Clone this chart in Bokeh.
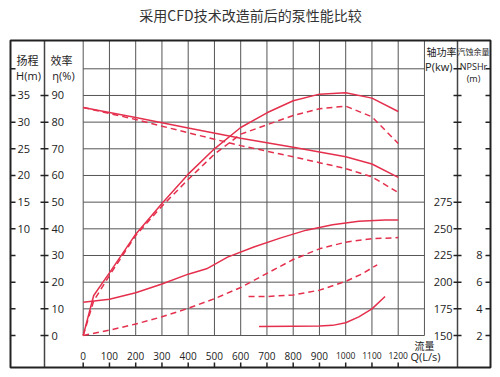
from bokeh.plotting import figure
from bokeh.models import Range1d
from bokeh.core.properties import value
from bokeh.embed import file_html
from bokeh.resources import INLINE

# ---------------- data ----------------
TITLE = "采用CFD技术改造前后的泵性能比较"

Q_TICKS = list(range(0, 1201, 100))          # flow, L/s
Q_GRID = list(range(0, 1301, 100))
ETA_GRID = list(range(0, 101, 10))
ETA_LABELS = list(range(0, 91, 10))          # efficiency, %
H_TICKS = list(range(-10, 41, 5))
H_LABELS = [10, 15, 20, 25, 30, 35]          # head, m
P_TICKS = list(range(150, 401, 25))
P_LABELS = [150, 175, 200, 225, 250, 275]    # shaft power, kW
N_TICKS = list(range(2, 23, 2))
N_LABELS = [2, 4, 6, 8]                      # NPSHr, m

# head H (m)
q_head = [0, 200, 400, 600, 800, 900, 1000, 1100, 1200]
head_after = [32.75, 30.85, 28.9, 27.0, 25.3, 24.4, 23.5, 22.15, 19.65]
head_before = [32.75, 30.5, 28.0, 25.6, 23.5, 22.4, 21.3, 19.75, 16.8]

# efficiency (%)
q_eff = [0, 40, 100, 200, 300, 400, 500, 600, 700, 800, 900, 1000, 1100, 1200]
eff_after = [0, 15, 23.5, 38, 49.5, 60.5, 70, 78, 83.5, 88, 90.5, 91, 89, 84]
eff_before = [0, 13, 22.5, 37.5, 48.5, 58.5, 68, 75.5, 79, 82.5, 85, 86, 82, 72]

# shaft power P (kW)
q_pow_after = [0, 100, 200, 300, 400, 470, 550, 650, 750, 850, 950, 1050, 1150, 1200]
pow_after = [181.25, 184, 190, 198.25, 207.5, 212.5, 223.5, 233, 241.25, 248.75,
             253.75, 257, 258.25, 258.25]
q_pow_before = [0, 100, 200, 300, 400, 500, 600, 700, 800, 900, 1000, 1100, 1200]
pow_before = [150, 155, 160.75, 167.5, 175.5, 184.5, 195, 208.25, 221.25, 231.25,
              237.5, 240.75, 241.75]

# NPSHr (m)
q_npsh_after = [670, 800, 900, 950, 1000, 1050, 1100, 1150]
npsh_after = [2.68, 2.7, 2.72, 2.76, 2.96, 3.4, 4.0, 4.92]
q_npsh_before = [630, 700, 800, 900, 1000, 1060, 1120]
npsh_before = [4.92, 4.92, 5.04, 5.4, 6.06, 6.6, 7.3]

# ---------------- layout calibration ----------------
W, HT = 500, 377
Q0_PX, PX_PER_Q = 82.7, 0.2625
E0_PX, PX_PER_E = 335.0, 2.667


def qx(px):
    return (px - Q0_PX) / PX_PER_Q


def ey(py):
    return (E0_PX - py) / PX_PER_E


e_lo, e_hi = ey(HT), ey(0)

p = figure(width=W, height=HT, x_range=Range1d(qx(0), qx(W)),
           y_range=Range1d(e_lo, e_hi), x_axis_type=None, y_axis_type=None,
           toolbar_location=None, output_backend="svg", min_border=0,
           outline_line_color=None, background_fill_color="white",
           border_fill_color="white")
p.extra_y_ranges = {
    "H": Range1d(e_lo / 2 - 10, e_hi / 2 - 10),
    "P": Range1d(150 + 2.5 * e_lo, 150 + 2.5 * e_hi),
    "N": Range1d(2 + e_lo / 5, 2 + e_hi / 5),
}

GRID = "#555555"
INK = "#222222"
RED = "#e5304d"
NUM = "Open Sans"
CJK = "Noto Sans CJK SC"

# grid
p.segment(x0=Q_GRID, x1=Q_GRID, y0=[0] * len(Q_GRID), y1=[ey(40)] * len(Q_GRID),
          line_color=GRID, line_width=1)
p.segment(x0=[0] * len(ETA_GRID), x1=[1300] * len(ETA_GRID), y0=ETA_GRID, y1=ETA_GRID,
          line_color=GRID, line_width=1)

# inner axis lines
for xp in (44, 457):
    p.segment(x0=[qx(xp)], x1=[qx(xp)], y0=[ey(40)], y1=[ey(367)],
              line_color="#444444", line_width=1.5)

# outer frame
p.quad(left=[qx(10)], right=[qx(490)], bottom=[ey(367)], top=[ey(40)],
       fill_alpha=0, line_color=INK, line_width=2)


def text(xs, ys, ss, size, align="center", font=NUM, yr="default", color=INK):
    p.text(x=xs, y=ys, text=ss, text_font=value(font), text_font_size=f"{size}px",
           text_align=align, text_baseline="middle", text_color=color,
           y_range_name=yr)


# H axis (left frame)
p.segment(x0=[qx(10)] * len(H_TICKS), x1=[qx(15)] * len(H_TICKS), y0=H_TICKS, y1=H_TICKS,
          line_color=INK, line_width=1.5, y_range_name="H")
text([qx(17)] * len(H_LABELS), H_LABELS, [str(v) for v in H_LABELS], 11, "left", yr="H")

# efficiency axis
p.segment(x0=[qx(40)] * len(ETA_LABELS), x1=[qx(48)] * len(ETA_LABELS), y0=ETA_LABELS,
          y1=ETA_LABELS, line_color=INK, line_width=1.5)
text([qx(51)] * len(ETA_LABELS), ETA_LABELS, [str(v) for v in ETA_LABELS], 11, "left")

# power axis
p.segment(x0=[qx(453)] * len(P_TICKS), x1=[qx(461)] * len(P_TICKS), y0=P_TICKS, y1=P_TICKS,
          line_color=INK, line_width=1.5, y_range_name="P")
text([qx(452)] * len(P_LABELS), P_LABELS, [str(v) for v in P_LABELS], 11, "right", yr="P")

# NPSH axis (right frame)
p.segment(x0=[qx(485)] * len(N_TICKS), x1=[qx(490)] * len(N_TICKS), y0=N_TICKS, y1=N_TICKS,
          line_color=INK, line_width=1.5, y_range_name="N")
text([qx(482)] * len(N_LABELS), N_LABELS, [str(v) for v in N_LABELS], 11, "right", yr="N")

# flow axis (bottom frame)
p.segment(x0=Q_TICKS, x1=Q_TICKS, y0=[ey(362)] * len(Q_TICKS), y1=[ey(367)] * len(Q_TICKS),
          line_color=INK, line_width=1.5)
q_small = [v for v in Q_TICKS if v < 1000]
q_big = [v for v in Q_TICKS if v >= 1000]
text(q_small, [ey(355)] * len(q_small), [str(v) for v in q_small], 10)
text(q_big, [ey(355)] * len(q_big), [str(v) for v in q_big], 8.5)

# headers
text([qx(250)], [ey(14)], [TITLE], 14, font=CJK, color="#333333")
text([qx(27), qx(61)], [ey(59)] * 2, ["扬程", "效率"], 11, font=CJK)
text([qx(28), qx(63)], [ey(75)] * 2, ["H(m)", "η(%)"], 11)
text([qx(441)], [ey(51)], ["轴功率"], 10, font=CJK)
text([qx(473)], [ey(51)], ["汽蚀余量"], 8, font=CJK)
text([qx(452)], [ey(66)], ["P(kw)"], 11, "right")
text([qx(473)], [ey(66)], ["NPSHr"], 9)
text([qx(473)], [ey(78)], ["(m)"], 9)
text([qx(424)], [ey(345)], ["流量"], 10, font=CJK)
text([qx(425)], [ey(356)], ["Q(L/s)"], 11)

# curves
LW = 1.5
DASH = "6 4"
p.line(q_head, head_after, line_color=RED, line_width=LW, y_range_name="H")
p.line(q_head, head_before, line_color=RED, line_width=LW, line_dash=DASH, y_range_name="H")
p.line(q_eff, eff_after, line_color=RED, line_width=LW)
p.line(q_eff, eff_before, line_color=RED, line_width=LW, line_dash=DASH)
p.line(q_pow_after, pow_after, line_color=RED, line_width=LW, y_range_name="P")
p.line(q_pow_before, pow_before, line_color=RED, line_width=LW, line_dash=DASH,
       y_range_name="P")
p.line(q_npsh_after, npsh_after, line_color=RED, line_width=LW, y_range_name="N")
p.line(q_npsh_before, npsh_before, line_color=RED, line_width=LW, line_dash=DASH,
       y_range_name="N")

open("out.html", "w").write(file_html(p, INLINE))
